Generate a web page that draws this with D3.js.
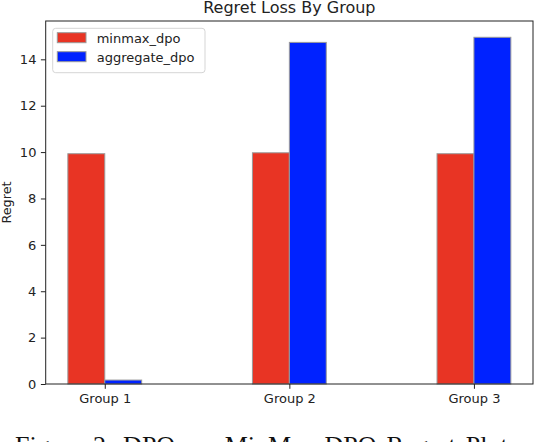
<!DOCTYPE html>
<html>
<head>
<meta charset="utf-8">
<script src="https://cdn.jsdelivr.net/npm/d3@7"></script>
<style>
  html, body { margin: 0; padding: 0; background: #fff; overflow: hidden; }
  svg { display: block; font-family: "DejaVu Sans", sans-serif; }
</style>
</head>
<body>
<div id="chart"></div>
<script>
// Data
const groups = ["Group 1", "Group 2", "Group 3"];
const minmaxDpo = [9.93, 9.97, 9.93];
const aggregateDpo = [0.17, 14.73, 14.95];
const yTicks = [0, 2, 4, 6, 8, 10, 12, 14];
const seriesNames = ["minmax_dpo", "aggregate_dpo"];

// Dimensions
const width = 536;
const height = 442;
const plotLeft = 45.7, plotRight = 533, plotTop = 21, plotBottom = 384;
const barW = 0.2;

const svg = d3.select("#chart")
  .append("svg")
    .attr("width", width)
    .attr("height", height);

const x = d3.scaleLinear()
  .domain([-0.32, 2.32])
  .range([plotLeft, plotRight]);

const yMax = d3.max(minmaxDpo.concat(aggregateDpo)) * 1.047;
const y = d3.scaleLinear()
  .domain([0, yMax])
  .range([plotBottom, plotTop]);

const color = d3.scaleOrdinal()
  .domain(seriesNames)
  .range(["#e83424", "#0022ff"]);

// Bars: red sits left of the tick, blue right of it
const bars = [];
groups.forEach((g, i) => {
  bars.push({ series: "minmax_dpo", x0: i - barW, value: minmaxDpo[i] });
  bars.push({ series: "aggregate_dpo", x0: i, value: aggregateDpo[i] });
});

svg.selectAll(".bar")
  .data(bars)
  .join("rect")
    .attr("class", "bar")
    .attr("x", d => x(d.x0))
    .attr("y", d => y(d.value))
    .attr("width", d => x(d.x0 + barW) - x(d.x0))
    .attr("height", d => y(0) - y(d.value))
    .attr("fill", d => color(d.series))
    .attr("stroke", "#9a9a9a")
    .attr("stroke-width", 1);

// Axes
const yAxis = d3.axisLeft(y)
  .tickValues(yTicks)
  .tickSize(4.8)
  .tickPadding(4.5);

svg.append("g")
    .attr("transform", `translate(${plotLeft},0)`)
    .call(yAxis)
    .call(g => g.select(".domain").remove())
    .call(g => g.selectAll("text").attr("font-size", 13).attr("fill", "#222").attr("font-family", "DejaVu Sans"))
    .call(g => g.selectAll("line").attr("stroke", "#222"));

const xAxis = d3.axisBottom(x)
  .tickValues(groups.map((g, i) => i))
  .tickFormat((d, i) => groups[i])
  .tickSize(4.8)
  .tickPadding(5);

svg.append("g")
    .attr("transform", `translate(0,${plotBottom})`)
    .call(xAxis)
    .call(g => g.select(".domain").remove())
    .call(g => g.selectAll("text").attr("font-size", 13).attr("fill", "#222").attr("font-family", "DejaVu Sans"))
    .call(g => g.selectAll("line").attr("stroke", "#222"));

// Frame
svg.append("rect")
    .attr("x", plotLeft)
    .attr("y", plotTop)
    .attr("width", plotRight - plotLeft)
    .attr("height", plotBottom - plotTop)
    .attr("fill", "none")
    .attr("stroke", "#222")
    .attr("stroke-width", 1);

// Title and axis label
svg.append("text")
    .attr("x", (plotLeft + plotRight) / 2)
    .attr("y", 13)
    .attr("text-anchor", "middle")
    .attr("font-size", 16)
    .attr("fill", "#222")
    .text("Regret Loss By Group");

svg.append("text")
    .attr("transform", `translate(11,${(plotTop + plotBottom) / 2}) rotate(-90)`)
    .attr("text-anchor", "middle")
    .attr("font-size", 12.8)
    .attr("fill", "#222")
    .text("Regret");

// Legend
const legend = svg.append("g")
    .attr("transform", "translate(52.7,28.3)");

legend.append("rect")
    .attr("width", 152.3)
    .attr("height", 44.4)
    .attr("rx", 3)
    .attr("fill", "#fff")
    .attr("fill-opacity", 0.8)
    .attr("stroke", "#d5d5d5");

const items = legend.selectAll(".legend-item")
  .data(seriesNames)
  .join("g")
    .attr("class", "legend-item")
    .attr("transform", (d, i) => `translate(0,${i * 19})`);

items.append("rect")
    .attr("x", 4.6)
    .attr("y", 4.4)
    .attr("width", 28.7)
    .attr("height", 10)
    .attr("fill", d => color(d))
    .attr("stroke", "#9a9a9a");

items.append("text")
    .attr("x", 44)
    .attr("y", 14.5)
    .attr("font-size", 13)
    .attr("fill", "#222")
    .text(d => d);

// Caption (cut off by the bottom edge, as in the source)
svg.append("text")
    .attr("x", 15)
    .attr("y", 454)
    .attr("font-family", "Liberation Serif, serif")
    .attr("font-size", 26)
    .attr("word-spacing", 3.5)
    .attr("fill", "#111")
    .text("Figure 2: DPO vs. MinMax-DPO Regret Plot");
</script>
</body>
</html>
